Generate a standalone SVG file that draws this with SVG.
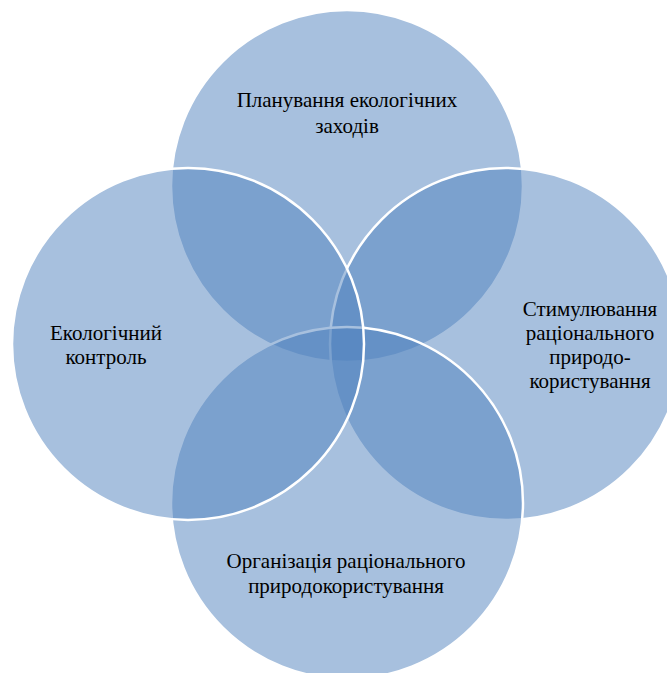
<svg xmlns="http://www.w3.org/2000/svg" width="667" height="673" viewBox="0 0 667 673">
  <style>
    .c { fill: #4F81BD; fill-opacity: 0.5; stroke: #FFFFFF; stroke-width: 2.5; }
    .t { font-family: "Liberation Serif", "Times New Roman", serif; font-size: 21px; fill: #000000; text-anchor: middle; }
  </style>
  <rect x="0" y="0" width="667" height="673" fill="#FFFFFF"/>
  <g id="node-planning">
    <circle class="c" cx="347" cy="186" r="176"/>
    <text class="t" x="347" y="107">Планування екологічних</text>
    <text class="t" x="347" y="133">заходів</text>
  </g>
  <g id="node-stimulation">
    <circle class="c" cx="506" cy="344" r="176"/>
    <text class="t" x="590" y="316">Стимулювання</text>
    <text class="t" x="590" y="340">раціонального</text>
    <text class="t" x="590" y="364">природо-</text>
    <text class="t" x="590" y="388">користування</text>
  </g>
  <g id="node-organization">
    <circle class="c" cx="347" cy="503" r="176"/>
    <text class="t" x="346" y="568">Організація раціонального</text>
    <text class="t" x="346" y="593">природокористування</text>
  </g>
  <g id="node-control">
    <circle class="c" cx="188" cy="344" r="176"/>
    <text class="t" x="106" y="340">Екологічний</text>
    <text class="t" x="106" y="364">контроль</text>
  </g>
</svg>
